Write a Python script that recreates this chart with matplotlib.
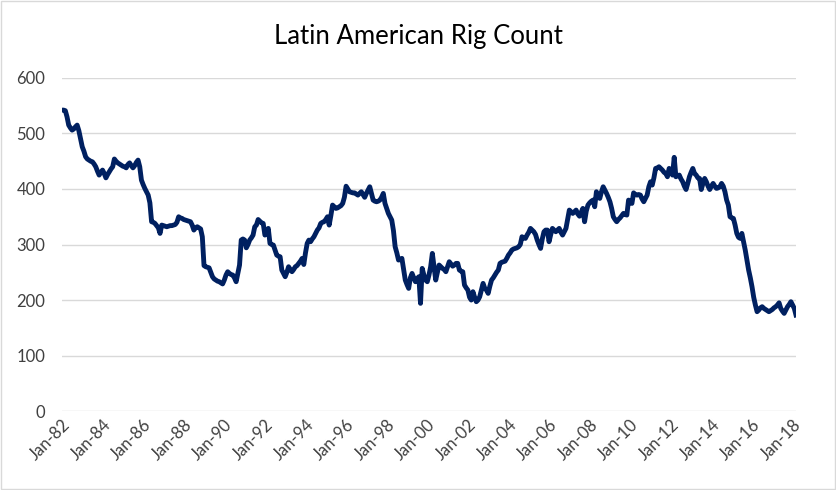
import matplotlib.pyplot as plt
import numpy as np
from matplotlib.patches import Rectangle

start_year = 1982

# monthly rig counts, one row per year (Jan..Dec)
rigs = [
    542, 542, 541, 530, 515, 510, 506, 508, 512, 515, 505, 490,  # 1982
    476, 468, 458, 454, 452, 450, 449, 445, 440, 432, 425, 430,  # 1983
    434, 428, 420, 426, 431, 436, 440, 454, 450, 447, 445, 443,  # 1984
    441, 440, 438, 444, 447, 442, 438, 442, 448, 452, 440, 416,  # 1985
    408, 401, 395, 389, 375, 341, 340, 338, 334, 330, 320, 335,  # 1986
    334, 333, 332, 333, 334, 334, 335, 336, 340, 350, 348, 347,  # 1987
    345, 344, 343, 342, 341, 335, 326, 330, 332, 330, 328, 314,  # 1988
    262, 260, 259, 258, 250, 242, 238, 236, 234, 233, 231, 229,  # 1989
    236, 245, 251, 248, 246, 245, 240, 233, 248, 263, 308, 310,  # 1990
    308, 294, 300, 308, 312, 317, 332, 335, 345, 342, 339, 338,  # 1991
    317, 322, 329, 302, 300, 299, 290, 281, 279, 278, 254, 248,  # 1992
    242, 250, 260, 255, 251, 255, 260, 262, 266, 270, 275, 264,  # 1993
    285, 302, 308, 305, 310, 314, 320, 326, 330, 338, 340, 341,  # 1994
    345, 350, 335, 352, 371, 368, 365, 366, 368, 370, 374, 385,  # 1995
    405, 400, 395, 394, 393, 393, 391, 389, 392, 395, 390, 385,  # 1996
    392, 398, 404, 392, 380, 378, 377, 378, 380, 385, 392, 374,  # 1997
    365, 356, 350, 344, 325, 296, 285, 272, 273, 275, 255, 236,  # 1998
    228, 221, 240, 248, 240, 233, 238, 242, 194, 257, 245, 236,  # 1999
    233, 245, 260, 284, 260, 236, 250, 263, 260, 257, 255, 251,  # 2000
    260, 269, 265, 261, 263, 266, 266, 254, 252, 251, 227, 222,  # 2001
    218, 205, 200, 215, 205, 197, 200, 206, 218, 230, 221, 218,  # 2002
    212, 225, 236, 240, 245, 250, 254, 266, 268, 269, 270, 275,  # 2003
    281, 285, 290, 292, 293, 294, 296, 300, 314, 312, 311, 317,  # 2004
    322, 329, 326, 323, 318, 308, 300, 293, 310, 323, 326, 326,  # 2005
    305, 318, 329, 326, 323, 326, 329, 322, 317, 323, 329, 345,  # 2006
    362, 359, 356, 359, 362, 355, 351, 358, 365, 341, 360, 371,  # 2007
    375, 378, 380, 368, 395, 388, 383, 395, 404, 398, 392, 385,  # 2008
    377, 365, 350, 345, 341, 345, 348, 352, 356, 354, 353, 380,  # 2009
    375, 374, 393, 390, 389, 390, 389, 382, 377, 383, 389, 404,  # 2010
    413, 407, 420, 437, 438, 440, 437, 434, 430, 428, 422, 437,  # 2011
    430, 425, 457, 422, 424, 425, 418, 413, 405, 399, 410, 422,  # 2012
    430, 437, 428, 425, 420, 419, 399, 410, 419, 413, 405, 399,  # 2013
    405, 410, 405, 401, 402, 404, 410, 405, 395, 380, 371, 350,  # 2014
    348, 347, 335, 320, 313, 311, 320, 305, 290, 272, 254, 240,  # 2015
    224, 205, 191, 179, 182, 186, 188, 185, 183, 181, 179, 181,  # 2016
    183, 186, 188, 191, 195, 185, 180, 176, 182, 188, 192, 197,  # 2017
    191, 185, 173,                                               # 2018
]

tick_years = list(range(1982, 2019, 2))
tick_labels = ['Jan-%02d' % (y % 100) for y in tick_years]

months = np.arange(len(rigs))

fig = plt.figure(figsize=(8.37, 4.9), dpi=100)
ax = fig.add_axes([0.074, 0.161, 0.877, 0.68])

ax.plot(months, rigs, color='#002060', lw=3.5, solid_joinstyle='round')

ax.set_ylim(0, 600)
ax.set_yticks(range(0, 601, 100))
ax.set_xlim(0, len(rigs) - 1)
ax.set_xticks([(y - start_year) * 12 for y in tick_years])
ax.set_xticklabels(tick_labels, rotation=45, ha='right', rotation_mode='anchor')

ax.grid(axis='y', color='#d9d9d9', lw=1)
ax.set_axisbelow(True)
for s in ax.spines.values():
    s.set_visible(False)
ax.tick_params(length=0, labelsize=12, labelcolor='#404040')
ax.tick_params(axis='y', pad=12)
ax.tick_params(axis='x', pad=4)
for lab in ax.get_xticklabels() + ax.get_yticklabels():
    lab.set_family('Lato')

fig.text(0.5, 0.925, 'Latin American Rig Count', ha='center', va='center',
         fontsize=18.5, family='Lato', color='#000000')

# chart border
fig.patches.append(Rectangle((0.001, 0.002), 0.997, 0.996, transform=fig.transFigure,
                             fill=False, edgecolor='#d9d9d9', lw=1))

fig.savefig('out.png', dpi=100)
